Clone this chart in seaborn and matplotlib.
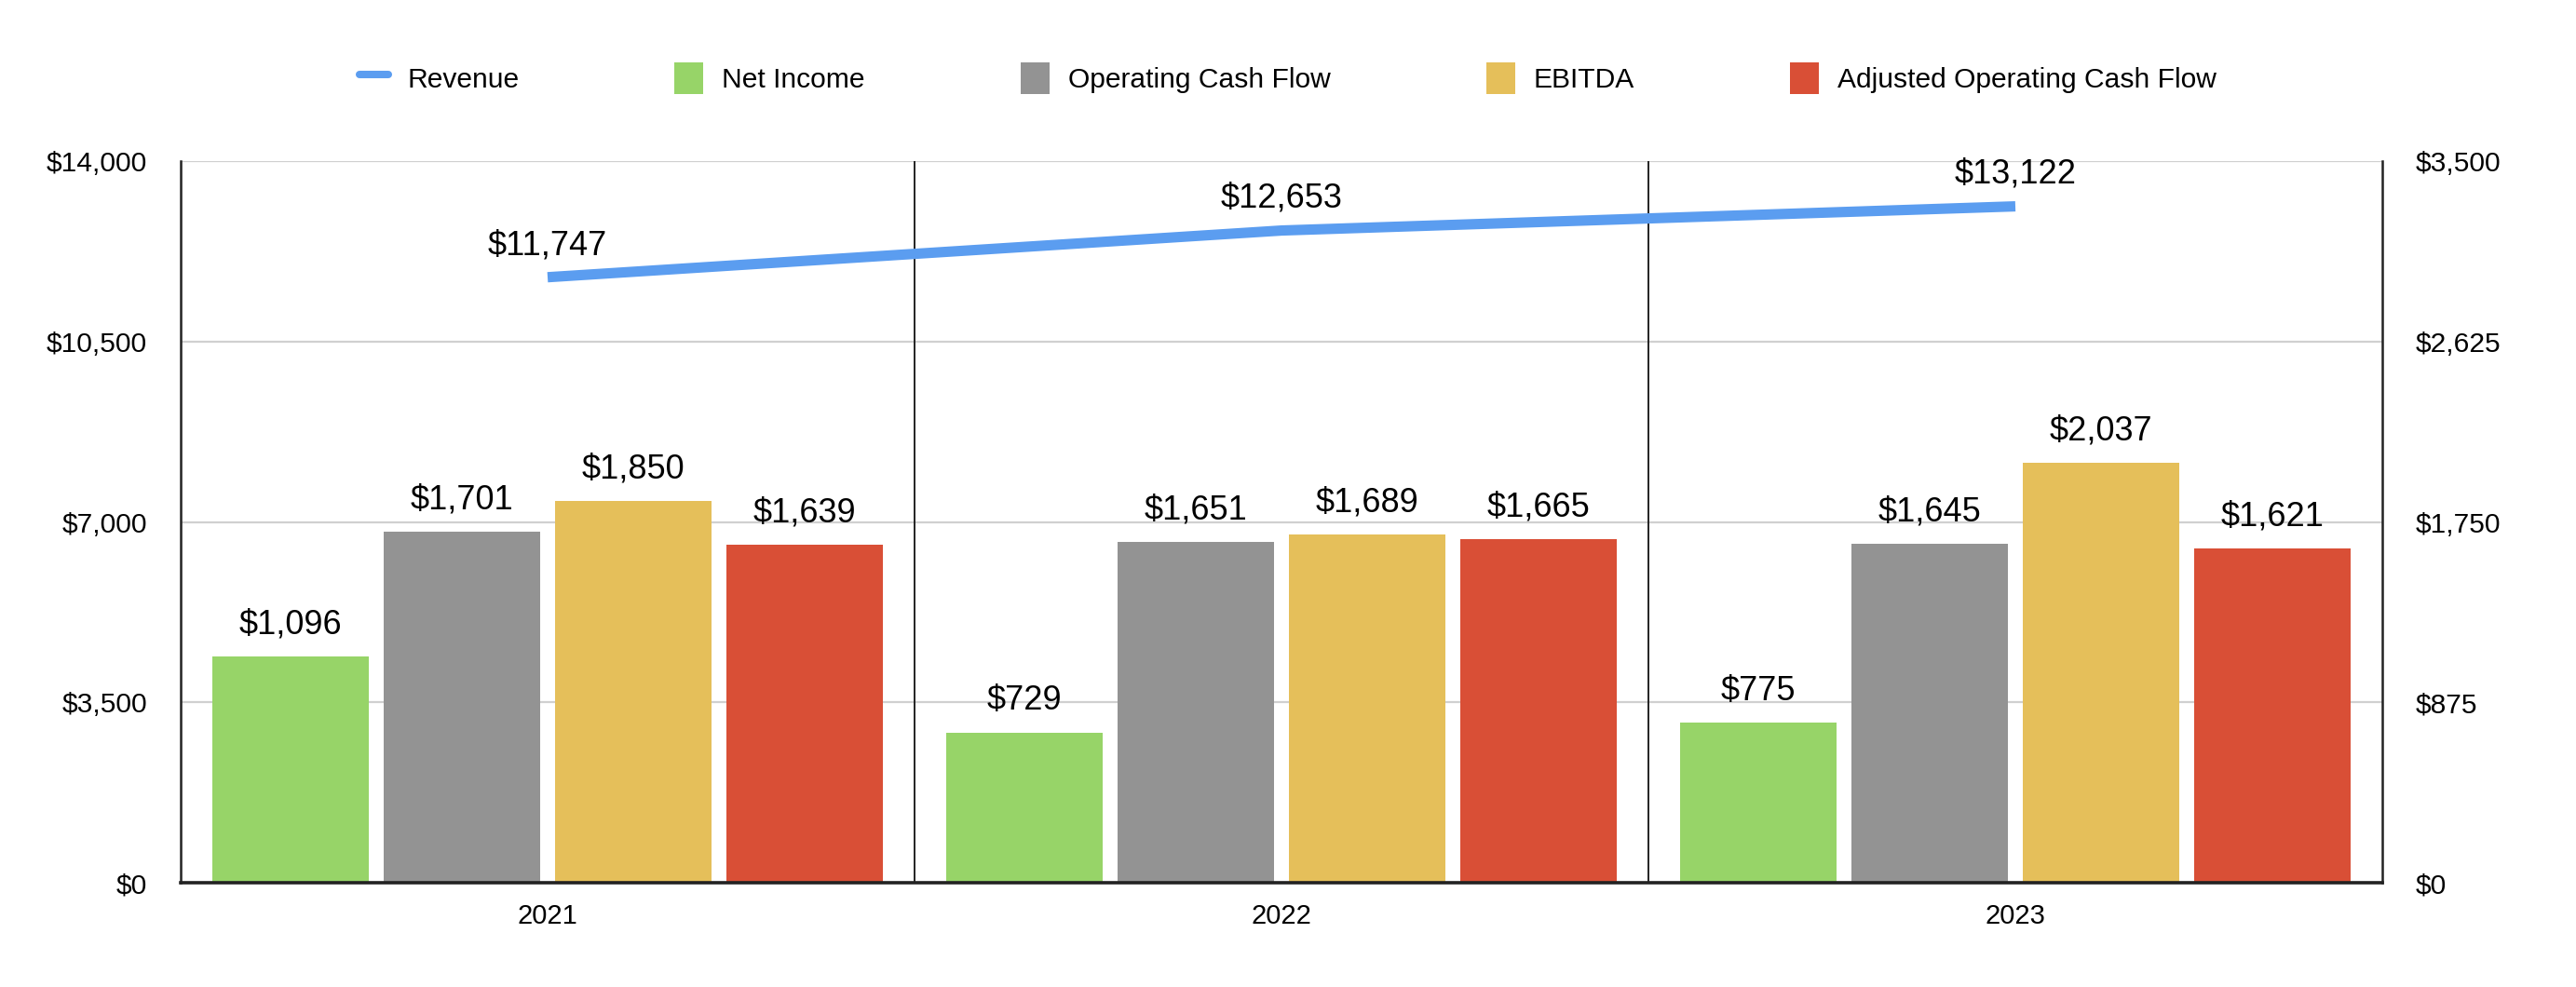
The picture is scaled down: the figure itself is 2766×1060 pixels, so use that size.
import numpy as np
import pandas as pd
import seaborn as sns
import matplotlib
matplotlib.use("Agg")
import matplotlib.pyplot as plt
from matplotlib.lines import Line2D
from matplotlib.patches import Patch
from matplotlib.ticker import FuncFormatter, MultipleLocator

# ---- data ----
years = ["2021", "2022", "2023"]
revenue = [11747, 12653, 13122]
net_income = [1096, 729, 775]
operating_cash_flow = [1701, 1651, 1645]
ebitda = [1850, 1689, 2037]
adjusted_ocf = [1639, 1665, 1621]
metrics = ["Net Income", "Operating Cash Flow", "EBITDA", "Adjusted Operating Cash Flow"]
colors = {"Net Income": "#97d468", "Operating Cash Flow": "#939393",
          "EBITDA": "#e5bf5a", "Adjusted Operating Cash Flow": "#d94f36"}
line_color = "#5b9df0"

rows = []
for m, vals in zip(metrics, [net_income, operating_cash_flow, ebitda, adjusted_ocf]):
    for y, v in zip(years, vals):
        rows.append({"Year": y, "Metric": m, "Value": v})
df = pd.DataFrame(rows)

sns.set_style("white")
plt.rcParams["font.family"] = ["Liberation Sans", "DejaVu Sans"]
plt.rcParams["text.color"] = "black"
plt.rcParams["xtick.color"] = "black"
plt.rcParams["ytick.color"] = "black"
plt.rcParams["axes.labelcolor"] = "black"

fig = plt.figure(figsize=(13.83, 5.30), dpi=200)
ax = fig.add_axes([194/2766, 1-948/1060, (2558-194)/2766, (948-173)/1060])

sns.barplot(data=df, x="Year", y="Value", hue="Metric", hue_order=metrics,
            palette=colors, width=0.934, gap=0.088, errorbar=None,
            saturation=1, legend=False, ax=ax, linewidth=0)

ax.set_xlim(-0.5, len(years) - 0.5)
ax.set_ylim(0, 3500)
ax.yaxis.set_major_locator(MultipleLocator(875))
fmt = FuncFormatter(lambda v, p: f"${v:,.0f}")
ax.yaxis.set_major_formatter(fmt)
ax.yaxis.grid(True, color="#d0d0d0", lw=0.8)
ax.set_axisbelow(True)
ax.set_xlabel("")
ax.set_ylabel("")
ax.tick_params(axis="x", length=0, pad=8, labelsize=10.5, colors="black")
for s in ["left", "right"]:
    ax.spines[s].set_visible(True)
    ax.spines[s].set_color("#222222")
    ax.spines[s].set_linewidth(0.9)
ax.spines["bottom"].set_color("#222222")
ax.spines["bottom"].set_linewidth(1.3)
ax.spines["top"].set_visible(False)

for i in range(1, len(years)):
    ax.axvline(i - 0.5, color="#222222", lw=0.7, zorder=1)

for c in ax.containers:
    ax.bar_label(c, labels=[f"${v:,.0f}" for v in c.datavalues], padding=6,
                 fontsize=13, color="black")

# revenue line on twin axis (left ticks)
ax2 = ax.twinx()
x_pos = np.arange(len(years))
sns.lineplot(x=x_pos, y=revenue, ax=ax2, color=line_color, lw=4, solid_capstyle="butt")
ax2.set_ylim(0, 14000)
ax2.yaxis.set_major_locator(MultipleLocator(3500))
ax2.yaxis.set_major_formatter(fmt)
ax2.set_ylabel("")
for s in ax2.spines.values():
    s.set_visible(False)

# bars axis ticks on the right, revenue axis ticks on the left
ax.yaxis.tick_right()
ax.tick_params(axis="y", which="both", length=0, pad=13, labelsize=10.8,
               left=False, labelleft=False, right=True, labelright=True, colors="black")
ax2.yaxis.tick_left()
ax2.tick_params(axis="y", which="both", length=0, pad=13, labelsize=10.8,
                left=True, labelleft=True, right=False, labelright=False, colors="black")

for i, v in enumerate(revenue):
    ax2.annotate(f"${v:,.0f}", (x_pos[i], v), xytext=(0, 6), textcoords="offset points",
                 ha="center", va="bottom", fontsize=13, color="black")

handles = [Line2D([], [], color=line_color, lw=2.9)] + \
          [Patch(facecolor=colors[m], edgecolor="none") for m in metrics]
labels = ["Revenue"] + metrics
fig.legend(handles, labels, loc="center", bbox_to_anchor=(0.5, 0.921), ncol=5,
           frameon=False, fontsize=10.8, handlelength=1.03, handleheight=1.37,
           handletextpad=0.67, columnspacing=5.57, labelcolor="black")

fig.savefig("out.png", dpi=200)
